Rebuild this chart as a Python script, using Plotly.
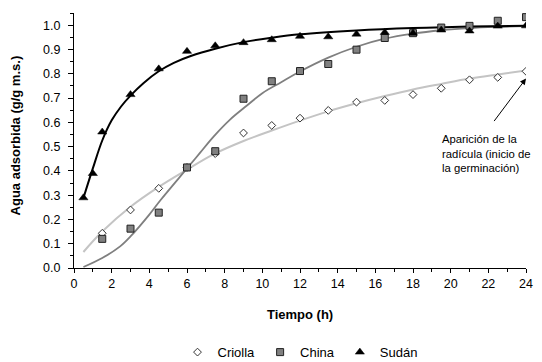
import plotly.graph_objects as go

# ---- data ----
t_sudan = [0.5, 1, 1.5, 3, 4.5, 6, 7.5, 9, 10.5, 12, 13.5, 15, 16.5, 18, 19.5, 21, 22.5, 24]
sudan = [0.289, 0.389, 0.56, 0.714, 0.82, 0.892, 0.915, 0.928, 0.94, 0.954, 0.952, 0.963, 0.97, 0.967, 0.98, 0.976, 0.996, 0.997]

t_other = [1.5, 3, 4.5, 6, 7.5, 9, 10.5, 12, 13.5, 15, 16.5, 18, 19.5, 21, 22.5, 24]
china = [0.12, 0.162, 0.228, 0.414, 0.481, 0.697, 0.769, 0.811, 0.84, 0.899, 0.947, 0.967, 0.99, 0.997, 1.018, 1.033]
criolla = [0.143, 0.239, 0.328, 0.414, 0.471, 0.556, 0.587, 0.617, 0.649, 0.683, 0.69, 0.714, 0.74, 0.775, 0.785, 0.81]

# fitted curves
fit_sudan_t = [0.5, 1, 1.5, 2, 2.5, 3, 3.7, 4.5, 5.3, 6.2, 7.5, 9, 10.5, 12, 15, 18, 21, 24]
fit_sudan_y = [0.288, 0.41, 0.525, 0.608, 0.665, 0.71, 0.762, 0.81, 0.845, 0.873, 0.903, 0.93, 0.948, 0.962, 0.978, 0.988, 0.994, 0.997]

fit_china_t = [0.5, 1.5, 2.45, 3, 4, 4.6, 6, 6.7, 7.4, 8.3, 9.2, 10, 11, 12, 13.5, 15, 16.5, 18, 19.5, 21, 22.5, 24]
fit_china_y = [0.004, 0.041, 0.089, 0.13, 0.22, 0.28, 0.41, 0.475, 0.54, 0.612, 0.67, 0.72, 0.765, 0.809, 0.866, 0.911, 0.944, 0.965, 0.979, 0.988, 0.993, 0.996]

fit_criolla_t = [0.5, 1.5, 3, 4.5, 6, 7.4, 9, 10.5, 12, 13.5, 15, 16.5, 18, 19.5, 21, 22.5, 24]
fit_criolla_y = [0.066, 0.15, 0.252, 0.334, 0.405, 0.468, 0.523, 0.566, 0.607, 0.645, 0.678, 0.708, 0.735, 0.758, 0.78, 0.797, 0.813]

x_ticks = [0, 2, 4, 6, 8, 10, 12, 14, 16, 18, 20, 22, 24]
y_ticks = [0.0, 0.1, 0.2, 0.3, 0.4, 0.5, 0.6, 0.7, 0.8, 0.9, 1.0]

FONT = "Liberation Sans, Arial, sans-serif"

fig = go.Figure()

# fitted lines (no legend)
fig.add_trace(go.Scatter(x=fit_criolla_t, y=fit_criolla_y, mode="lines", line=dict(color="#c4c4c4", width=2, shape="spline"),
                         showlegend=False, hoverinfo="skip"))
fig.add_trace(go.Scatter(x=fit_china_t, y=fit_china_y, mode="lines", line=dict(color="#7f7f7f", width=1.8, shape="spline"),
                         showlegend=False, hoverinfo="skip"))
fig.add_trace(go.Scatter(x=fit_sudan_t, y=fit_sudan_y, mode="lines", line=dict(color="#000000", width=2, shape="spline"),
                         showlegend=False, hoverinfo="skip"))

# data markers
fig.add_trace(go.Scatter(x=t_other, y=criolla, mode="markers", name="Criolla",
                         marker=dict(symbol="diamond", size=6, color="white", line=dict(color="#333333", width=1))))
fig.add_trace(go.Scatter(x=t_other, y=china, mode="markers", name="China",
                         marker=dict(symbol="square", size=7, color="#808080", line=dict(color="#222222", width=1))))
fig.add_trace(go.Scatter(x=t_sudan, y=sudan, mode="markers", name="Sudán",
                         marker=dict(symbol="triangle-up", size=8, color="black", line=dict(color="black", width=0.5))))

# the page has an 8px body margin: figure is 534x354 placed at (8,8)
fig.update_layout(
    width=534, height=354,
    margin=dict(l=66, r=16, t=5, b=94, autoexpand=False),
    paper_bgcolor="white", plot_bgcolor="white",
    font=dict(family=FONT, size=12, color="black"),
    showlegend=True,
    legend=dict(orientation="h", x=0.5, xanchor="center", y=-0.33, yanchor="middle",
                font=dict(size=13), itemwidth=30, traceorder="normal"),
    xaxis=dict(range=[0, 24], tickvals=x_ticks, ticktext=[str(v) for v in x_ticks],
               showgrid=False, zeroline=False, showline=True, linecolor="black", linewidth=1,
               ticks="outside", ticklen=4, tickcolor="black",
               minor=dict(dtick=1, ticks="outside", ticklen=3, tickcolor="black"),
               tickfont=dict(size=12.5), fixedrange=True),
    yaxis=dict(range=[0, 1.05], tickvals=y_ticks, ticktext=[f"{v:.1f}" for v in y_ticks],
               showgrid=False, zeroline=False, showline=True, linecolor="black", linewidth=1,
               ticks="outside", ticklen=5, tickcolor="black",
               minor=dict(tick0=0, dtick=0.05, ticks="outside", ticklen=3, tickcolor="black"),
               tickfont=dict(size=12.5), ticklabelstandoff=5, fixedrange=True),
)

# axis titles
fig.add_annotation(text="<b>Agua adsorbida (g/g m.s.)</b>", textangle=-90, xref="paper", yref="paper",
                   x=-0.1305, y=0.52, xanchor="center", yanchor="middle", showarrow=False,
                   font=dict(size=13, family=FONT))
fig.add_annotation(text="<b>Tiempo (h)</b>", xref="paper", yref="paper", x=0.5, y=-0.183,
                   xanchor="center", yanchor="middle", showarrow=False, font=dict(size=13, family=FONT))

# germination note + arrow
fig.add_annotation(text="Aparición de la<br>radícula (inicio de<br>la germinación)", xref="x", yref="y",
                   x=19.5, y=0.562, xanchor="left", yanchor="top", align="left", showarrow=False,
                   borderpad=0, font=dict(size=11.3, family=FONT))
fig.add_annotation(text="", xref="x", yref="y", x=24, y=0.78, ax=-33, ay=44, axref="pixel", ayref="pixel",
                   showarrow=True, arrowhead=2, arrowsize=1.2, arrowwidth=1, arrowcolor="black")

fig.write_html("out.html")
